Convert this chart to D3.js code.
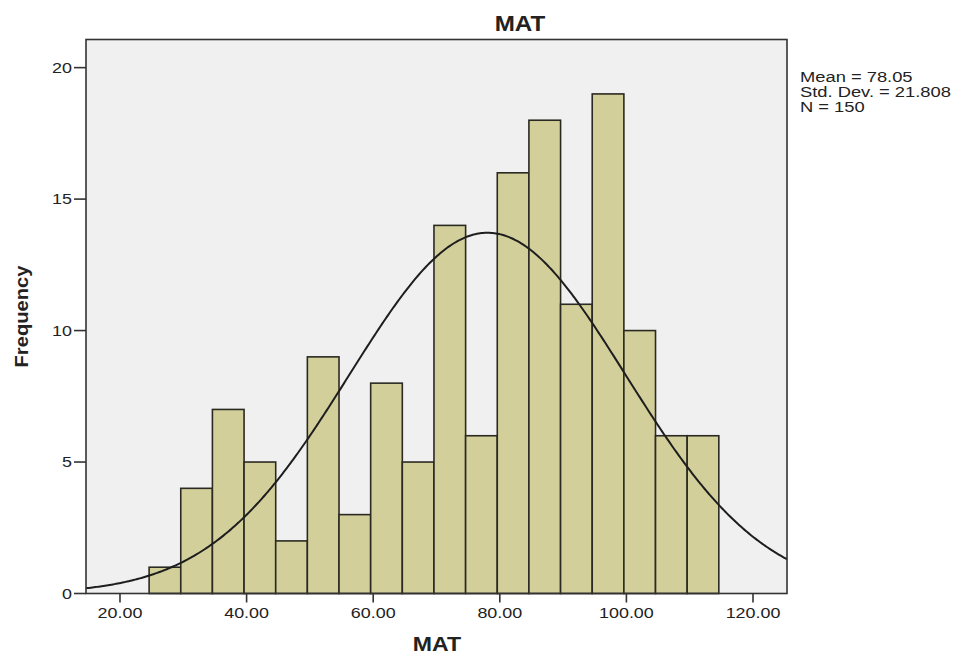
<!DOCTYPE html>
<html>
<head>
<meta charset="utf-8">
<script src="https://cdn.jsdelivr.net/npm/d3@7"></script>
<style>
    body { margin: 0; background: #ffffff; }
    text { font-family: "Liberation Sans", Arial, sans-serif; fill: #222; }
</style>
</head>
<body>
<div id="chart"></div>
<script>
// histogram data
var binStart = 24.6;   // left edge of first bin
var binWidth = 5;      // width of each bin
var counts = [1, 4, 7, 5, 2, 9, 3, 8, 5, 14, 6, 16, 18, 11, 19, 10, 6, 6];
var xTicks = [20, 40, 60, 80, 100, 120];
var yTicks = [0, 5, 10, 15, 20];
var statLabels = ["Mean = 78.05", "Std. Dev. = 21.808", "N = 150"];
var mean = 78.05, stdDev = 21.808, total = 150;

createGraph();

function createGraph() {
    // Main config
    var width = 957;
    var height = 657;
    var frame = { left: 86, top: 39.5, right: 787, bottom: 593.5 };

    var x = d3.scaleLinear().domain([14.63, 125.37]).range([frame.left, frame.right]);
    var y = d3.scaleLinear().domain([0, 21.07]).range([frame.bottom, frame.top]);

    var svg = d3.select("#chart").append("svg")
        .attr("width", width)
        .attr("height", height);

    // small helper: the picture's text is a bit stretched sideways
    function label(px, py, str, size, weight, anchor, sx, rot) {
        return svg.append("text")
            .attr("transform", "translate(" + px + "," + py + ")" + (rot ? " rotate(" + rot + ")" : "") + " scale(" + sx + ",1)")
            .attr("text-anchor", anchor)
            .style("font-size", size + "px")
            .style("font-weight", weight)
            .text(str);
    }

    // plot background
    svg.append("rect")
        .attr("x", frame.left).attr("y", frame.top)
        .attr("width", frame.right - frame.left)
        .attr("height", frame.bottom - frame.top)
        .attr("fill", "#f0f0f0");

    // bars
    var bins = counts.map(function (c, i) {
        return { x0: binStart + i * binWidth, x1: binStart + (i + 1) * binWidth, n: c };
    });
    svg.selectAll(".bar")
        .data(bins)
        .enter().append("rect")
        .attr("class", "bar")
        .attr("x", function (d) { return x(d.x0); })
        .attr("y", function (d) { return y(d.n); })
        .attr("width", function (d) { return x(d.x1) - x(d.x0); })
        .attr("height", function (d) { return y(0) - y(d.n); })
        .attr("fill", "#d3cf9a")
        .attr("stroke", "#2a2a22")
        .attr("stroke-width", 1.6);

    // normal curve scaled to counts
    var pts = d3.range(14.63, 125.4, 0.25).map(function (v) {
        var z = (v - mean) / stdDev;
        return [v, total * binWidth * Math.exp(-0.5 * z * z) / (stdDev * Math.sqrt(2 * Math.PI))];
    });
    svg.append("path")
        .datum(pts)
        .attr("fill", "none")
        .attr("stroke", "#1e1e1e")
        .attr("stroke-width", 2)
        .attr("d", d3.line()
            .x(function (d) { return x(d[0]); })
            .y(function (d) { return y(d[1]); }));

    // frame
    svg.append("rect")
        .attr("x", frame.left).attr("y", frame.top)
        .attr("width", frame.right - frame.left)
        .attr("height", frame.bottom - frame.top)
        .attr("fill", "none")
        .attr("stroke", "#333")
        .attr("stroke-width", 1.6);

    // x axis ticks
    svg.selectAll(".xtick")
        .data(xTicks)
        .enter().append("line")
        .attr("x1", function (d) { return x(d); })
        .attr("x2", function (d) { return x(d); })
        .attr("y1", frame.bottom).attr("y2", frame.bottom + 9)
        .attr("stroke", "#333").attr("stroke-width", 1.6);
    xTicks.forEach(function (t) {
        label(x(t), 618, d3.format(".2f")(t), 14, "normal", "middle", 1.28);
    });

    // y axis ticks
    svg.selectAll(".ytick")
        .data(yTicks)
        .enter().append("line")
        .attr("x1", frame.left - 12).attr("x2", frame.left)
        .attr("y1", function (d) { return y(d); })
        .attr("y2", function (d) { return y(d); })
        .attr("stroke", "#333").attr("stroke-width", 1.6);
    yTicks.forEach(function (t) {
        label(frame.left - 14, y(t) + 5, String(t), 14, "normal", "end", 1.28);
    });

    // titles
    label(520, 31, "MAT", 22, "bold", "middle", 1.1);
    label(437, 651, "MAT", 21, "bold", "middle", 1.1);
    label(28, (frame.top + frame.bottom) / 2, "Frequency", 18, "bold", "middle", 1.12, -90);

    // stats box
    statLabels.forEach(function (s, i) {
        label(800, 81.5 + i * 15, s, 14, "normal", "start", 1.31);
    });
}
</script>
</body>
</html>
